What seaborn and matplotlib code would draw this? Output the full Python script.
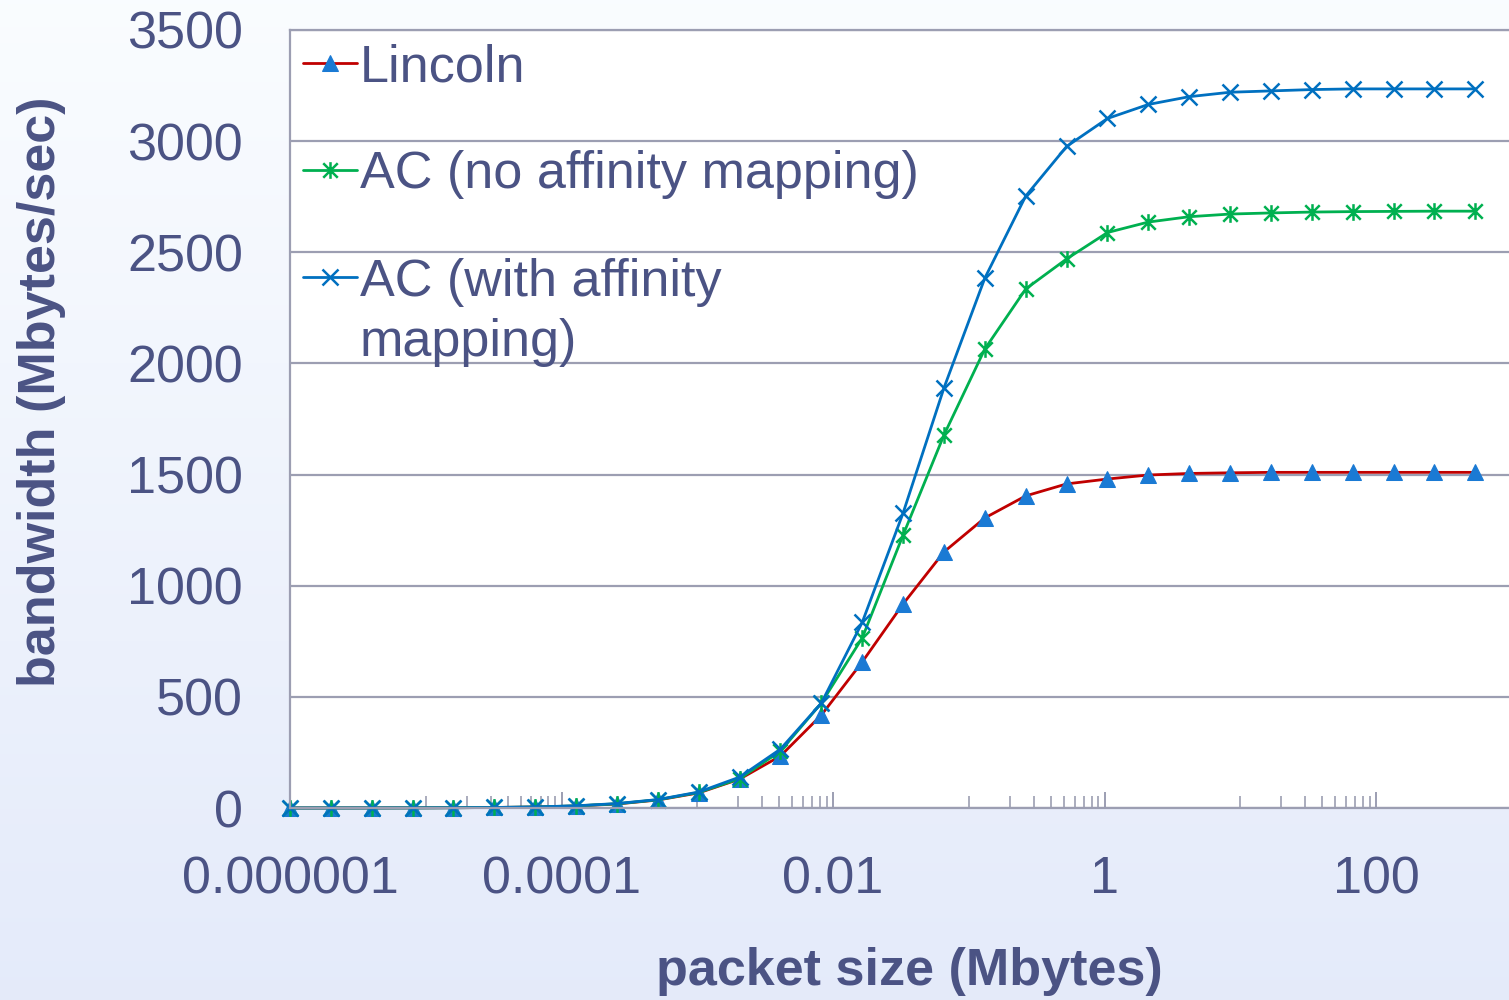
import numpy as np
import pandas as pd
import matplotlib
matplotlib.use("Agg")
import matplotlib.pyplot as plt
import seaborn as sns
from matplotlib.path import Path
from matplotlib.ticker import FixedLocator, NullFormatter

# packet sizes (Mbytes), one point per power of two
packet_size = [0.000001, 0.000002, 0.000004, 0.000008, 0.000016, 0.000032,
               0.000064, 0.000128, 0.000256, 0.000512, 0.001024, 0.002048,
               0.004096, 0.008192, 0.016384, 0.032768, 0.065536, 0.131072,
               0.262144, 0.524288, 1.048576, 2.097152, 4.194304, 8.388608,
               16.777216, 33.554432, 67.108864, 134.217728, 268.435456,
               536.870912]

# bandwidth (Mbytes/sec)
lincoln = [0.1, 0.2, 0.3, 0.6, 1.2, 2.3, 4.5, 9, 18, 36, 68, 130,
           234, 418, 657, 918, 1152, 1305, 1404, 1458, 1480, 1498,
           1505, 1508, 1510, 1510, 1510, 1510, 1510, 1510]
ac_no_affinity = [0.1, 0.2, 0.3, 0.6, 1.2, 2.3, 4.6, 9.5, 19, 37, 70, 132,
                  256, 472, 765, 1228, 1678, 2065, 2335, 2470, 2589, 2636,
                  2660, 2672, 2677, 2681, 2683, 2684, 2685, 2685]
ac_affinity = [0.1, 0.2, 0.3, 0.6, 1.2, 2.4, 4.8, 10, 20, 38, 72, 139,
               265, 472, 835, 1327, 1890, 2384, 2753, 2976, 3102, 3165,
               3200, 3220, 3226, 3232, 3235, 3235, 3235, 3235]

x_ticks = [0.000001, 0.0001, 0.01, 1, 100]
x_tick_labels = ["0.000001", "0.0001", "0.01", "1", "100"]
y_ticks = [0, 500, 1000, 1500, 2000, 2500, 3000, 3500]

df = pd.DataFrame({"size": packet_size, "Lincoln": lincoln,
                   "AC (no affinity mapping)": ac_no_affinity,
                   "AC (with affinity": ac_affinity})

text_color = "#4b5384"
grid_color = "#9c9eb2"
fs = 37.5

sns.set_theme(style="white")
plt.rcParams["font.family"] = ["Liberation Sans", "DejaVu Sans"]

fig = plt.figure(figsize=(15.09, 10), dpi=100)

# light gradient behind everything
bg = fig.add_axes([0, 0, 1, 1], zorder=-5)
top = np.array([0.98, 0.99, 1.0])
bottom = np.array([0.895, 0.92, 0.98])
t = np.linspace(0, 1, 256)[:, None]
grad = (top * (1 - t) + bottom * t)[:, None, :]
bg.imshow(grad, aspect="auto", extent=[0, 1, 0, 1])
bg.axis("off")

ax = fig.add_axes([290 / 1509, 0.192, 1222 / 1509, 0.778])
ax.set_facecolor("white")

# excel style star: x with a vertical bar
star = Path([(-1, -1), (1, 1), (-1, 1), (1, -1), (0, -1.15), (0, 1.15)],
            [Path.MOVETO, Path.LINETO, Path.MOVETO, Path.LINETO,
             Path.MOVETO, Path.LINETO])

sns.lineplot(data=df, x="size", y="Lincoln", ax=ax, color="#c00000", lw=2,
             marker="^", ms=11, mfc="#1a7ad4", mec="#1a7ad4",
             label="Lincoln", clip_on=False)
sns.lineplot(data=df, x="size", y="AC (no affinity mapping)", ax=ax,
             color="#00b050", lw=2, marker=star, ms=12, mfc="none",
             mec="#00b050", mew=1.8, label="AC (no affinity mapping)",
             clip_on=False)
sns.lineplot(data=df, x="size", y="AC (with affinity", ax=ax,
             color="#0070c0", lw=2, marker="x", ms=11, mec="#0070c0",
             mew=1.8, label="AC (with affinity", clip_on=False)

ax.set_xscale("log")
ax.set_xlim(1e-6, 1e3)
ax.set_ylim(0, 3500)
ax.set_xticks(x_ticks, labels=x_tick_labels)
minor = [k * 10.0 ** e for e in (-5, -3, -1, 1) for k in range(1, 10)]
ax.xaxis.set_minor_locator(FixedLocator(minor))
ax.xaxis.set_minor_formatter(NullFormatter())
ax.set_yticks(y_ticks)
ax.set_xlabel("")
ax.set_ylabel("")

ax.yaxis.grid(True, color=grid_color, lw=1.6)
ax.set_axisbelow(True)
for s in ax.spines.values():
    s.set_color(grid_color)
    s.set_linewidth(1.6)

ax.tick_params(axis="x", which="both", bottom=True)
ax.tick_params(axis="x", which="major", direction="in", length=11.5,
               width=1.4, color=grid_color, pad=34, labelsize=fs,
               labelcolor=text_color)
ax.tick_params(axis="x", which="minor", direction="in", length=8.6,
               width=1.2, color=grid_color)
ax.tick_params(axis="y", length=0, pad=34, labelsize=fs,
               labelcolor=text_color)

leg = ax.legend(loc="upper left", bbox_to_anchor=(0, 1), borderaxespad=0,
                borderpad=0.25, frameon=False, fontsize=fs,
                handlelength=1.04, handletextpad=0.05, labelspacing=1.12,
                labelcolor=text_color)
# second line of the last legend label (drawn after the legend)
ax.annotate("mapping)", xy=(0, 0), xycoords=leg.get_texts()[2],
            xytext=(0, -43.2), textcoords="offset points", va="bottom",
            ha="left", fontsize=fs, color=text_color, zorder=10)

fig.text(909 / 1509, 1 - 972 / 1000, "packet size (Mbytes)", ha="center",
         va="center", fontsize=fs, fontweight="bold", color=text_color)
fig.text(42 / 1509, 1 - 392 / 1000, "bandwidth (Mbytes/sec)", ha="center",
         va="center", rotation=90, fontsize=fs, fontweight="bold",
         color=text_color)

fig.savefig("out.png", dpi=100)
